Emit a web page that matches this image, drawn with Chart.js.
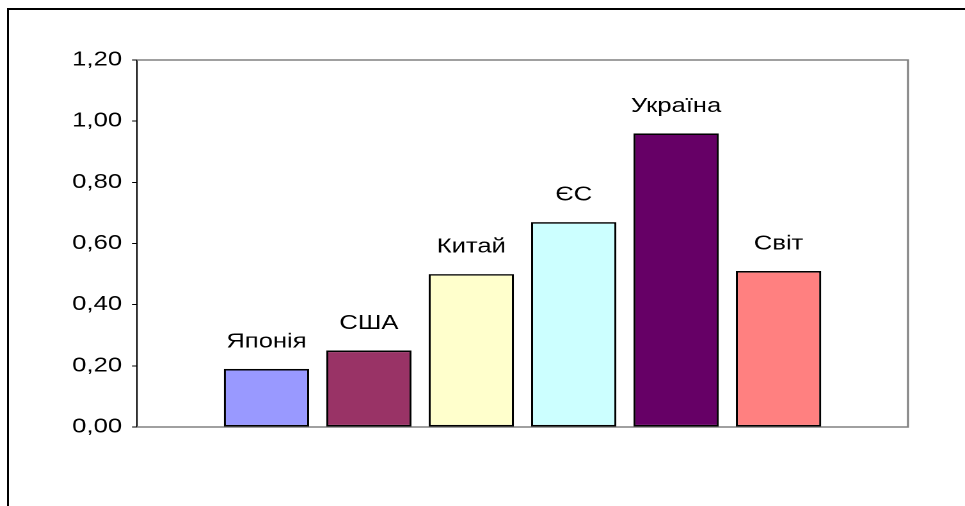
<!DOCTYPE html>
<html>
<head>
<meta charset="utf-8">
<script src="https://cdn.jsdelivr.net/npm/chart.js@4/dist/chart.umd.min.js"></script>
<style>
    html, body { margin: 0; padding: 0; background: #fff; overflow: hidden; }
    body { width: 965px; height: 506px; position: relative; }
    .frame {
        position: absolute; left: 7px; top: 8px; right: -10px; bottom: -10px;
        border-top: 2px solid #000; border-left: 2px solid #000;
    }
    /* the source picture is stretched sideways, so the chart is drawn narrow and widened */
    .wrap {
        position: absolute; left: 0; top: 0; width: 754px; height: 506px;
        transform: scaleX(1.2798); transform-origin: 0 0;
    }
</style>
</head>
<body>
<div class="frame"></div>
<div class="wrap"><canvas id="chart"></canvas></div>
<script>
const categories = ['Японія', 'США', 'Китай', 'ЄС', 'Україна', 'Світ'];
const values = [0.19, 0.25, 0.50, 0.67, 0.96, 0.51];
const colors = ['#9999FF', '#993366', '#FFFFCC', '#CCFFFF', '#660066', '#FF8080'];
const yTicks = [0, 0.2, 0.4, 0.6, 0.8, 1.0, 1.2];

const FONT = '"Liberation Sans", Arial, sans-serif';

// gray plot-area frame (left side is the value axis)
const plotFrame = {
    id: 'plotFrame',
    beforeDatasetsDraw(chart) {
        const { ctx, chartArea: a } = chart;
        ctx.save();
        ctx.strokeStyle = '#808080';
        ctx.lineWidth = 1.6;
        ctx.beginPath();
        ctx.moveTo(a.left, a.top);
        ctx.lineTo(a.right, a.top);
        ctx.lineTo(a.right, a.bottom);
        ctx.lineTo(a.left, a.bottom);
        ctx.stroke();
        ctx.restore();
    }
};

// series names above each bar
const barNames = {
    id: 'barNames',
    afterDatasetsDraw(chart) {
        const ctx = chart.ctx;
        ctx.save();
        ctx.font = '20px ' + FONT;
        ctx.fillStyle = '#000';
        ctx.textAlign = 'center';
        ctx.textBaseline = 'middle';
        chart.data.datasets.forEach((ds, i) => {
            const bar = chart.getDatasetMeta(i).data[0];
            ctx.fillText(ds.label, bar.x, bar.y - 27);
        });
        ctx.restore();
    }
};

const datasets = categories.map((name, i) => ({
    label: name,
    data: [values[i]],
    backgroundColor: colors[i],
    borderColor: '#000',
    borderWidth: 1.6,
    borderSkipped: false
}));

new Chart(document.getElementById('chart'), {
    type: 'bar',
    data: { labels: [''], datasets: datasets },
    options: {
        responsive: true,
        maintainAspectRatio: false,
        animation: false,
        devicePixelRatio: 2,
        layout: { padding: { left: 0, right: 44.5, top: 60, bottom: 79 } },
        datasets: { bar: { categoryPercentage: 0.797, barPercentage: 0.833 } },
        plugins: { legend: { display: false }, tooltip: { enabled: false } },
        scales: {
            x: { display: false },
            y: {
                min: 0,
                max: 1.2,
                afterFit: scale => { scale.width = 107.05; },
                afterBuildTicks: scale => { scale.ticks = yTicks.map(v => ({ value: v })); },
                grid: { drawOnChartArea: false, drawTicks: true, tickLength: 3.9, color: '#000', lineWidth: 1 },
                border: { display: true, color: '#000', width: 1.1 },
                ticks: {
                    padding: 7.8,
                    color: '#000',
                    font: { family: FONT, size: 20 },
                    callback: v => v.toFixed(2).replace('.', ',')
                }
            }
        }
    },
    plugins: [plotFrame, barNames]
});
</script>
</body>
</html>
